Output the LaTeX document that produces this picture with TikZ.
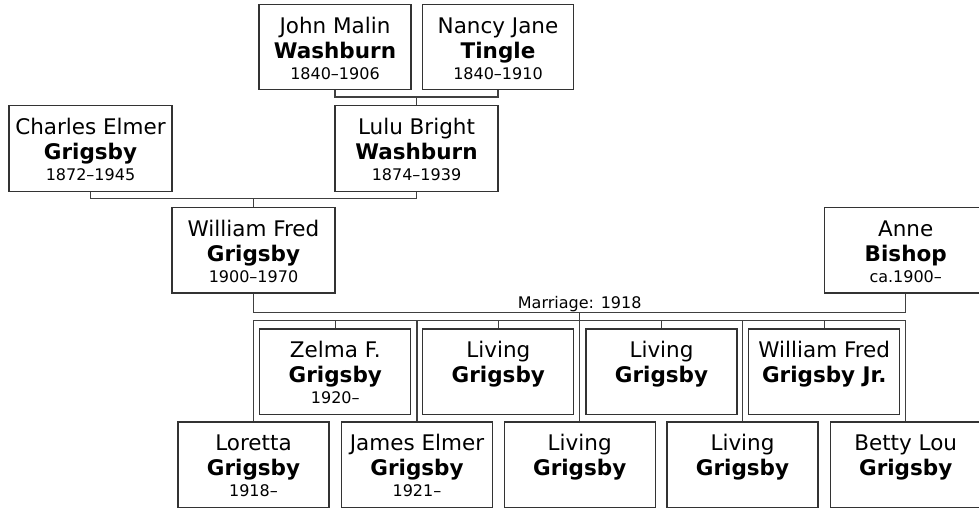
\documentclass[tikz,border=0pt]{standalone}
\usepackage{fontspec}
\setmainfont{DejaVu Sans}
\newcommand\nmfont{\fontsize{21.5}{25}\selectfont}
\newcommand\dtfont{\fontsize{16}{19}\selectfont}
\newcommand\pp[3]{\vbox to 85.5pt{\hsize=140pt\offinterlineskip
  \kern29pt\hbox to\hsize{\hss\smash{\nmfont #1}\hss}%
  \kern25pt\hbox to\hsize{\hss\smash{\nmfont\bfseries #2}\hss}%
  \kern21pt\hbox to\hsize{\hss\smash{\dtfont #3}\hss}\vss}}
\tikzset{
  person/.style={draw=black!80, line width=1.3pt, fill=white, inner sep=0pt, anchor=north, minimum height=85.5pt},
  wide/.style={person, minimum width=163pt},
  narrow/.style={person, minimum width=151pt},
  conn/.style={draw=black!75, line width=1.3pt},
  lbl/.style={font=\dtfont, inner sep=0pt, anchor=base}
}
\begin{document}
\begin{tikzpicture}[x=1pt,y=-1pt]
\useasboundingbox (0,0) rectangle (979,508);
\clip (0,0) rectangle (979,508);
% generation 1
\node[narrow, minimum width=152pt] (john) at (335,3.7) {\pp{John Malin}{Washburn}{1840–1906}};
\node[narrow] (nancy) at (498,3.7) {\pp{Nancy Jane}{Tingle}{1840–1910}};
% generation 2
\node[wide] (charles) at (90.5,105) {\pp{Charles Elmer}{Grigsby}{1872–1945}};
\node[wide] (lulu) at (416.5,105) {\pp{Lulu Bright}{Washburn}{1874–1939}};
% generation 3
\node[wide] (william) at (253.5,206.7) {\pp{William Fred}{Grigsby}{1900–1970}};
\node[wide] (anne) at (905.7,206.7) {\pp{Anne}{Bishop}{ca.1900–}};
% children, top row
\node[narrow] (c2) at (335.3,328.3) {\pp{Zelma F.}{Grigsby}{1920–}};
\node[narrow] (c4) at (498.3,328.3) {\pp{Living}{Grigsby}{}};
\node[narrow] (c6) at (661.5,328.3) {\pp{Living}{Grigsby}{}};
\node[narrow] (c8) at (824.2,328.3) {\pp{William Fred}{Grigsby Jr.}{}};
% children, bottom row
\node[narrow] (c1) at (253.5,421.2) {\pp{Loretta}{Grigsby}{1918–}};
\node[narrow] (c3) at (417,421.2) {\pp{James Elmer}{Grigsby}{1921–}};
\node[narrow] (c5) at (579.7,421.2) {\pp{Living}{Grigsby}{}};
\node[narrow] (c7) at (742.5,421.2) {\pp{Living}{Grigsby}{}};
\node[narrow] (c9) at (905.7,421.2) {\pp{Betty Lou}{Grigsby}{}};
% junctions
\coordinate (j1) at (416.5,97);
\coordinate (j2) at (253.5,198.3);
\coordinate (j3) at (579.7,312.7);
\coordinate (bus) at (579.7,320.7);
% connectors
\draw[conn] (john.south) |- (j1) -| (nancy.south);
\draw[conn] (j1) -- (lulu.north);
\draw[conn] (charles.south) |- (j2) -| (lulu.south);
\draw[conn] (j2) -- (william.north);
\draw[conn] (william.south) |- (j3) -| (anne.south);
\draw[conn] (j3) -- (c5.north);
\draw[conn] (c1.north) |- (bus) -| (c9.north);
\foreach \c in {c2,c3,c4,c6,c7,c8}{\draw[conn] (\c.north) -- (\c.north |- bus);}
\node[lbl] (marr) at (579.7,308.3) {Marriage: 1918};
\end{tikzpicture}
\end{document}
